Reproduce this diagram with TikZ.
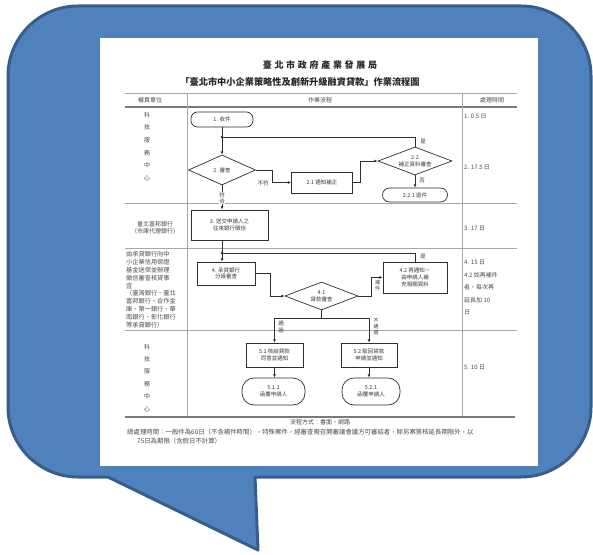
\documentclass[tikz,border=0pt]{standalone}
\usepackage{fontspec}
\newfontfamily\cjk{Noto Sans CJK TC}
\newfontfamily\cjkwide[LetterSpace=30]{Noto Sans CJK TC}
\usetikzlibrary{arrows.meta,shapes.geometric}
\definecolor{bubblefill}{HTML}{4F81BD}
\definecolor{bubbleline}{HTML}{385D8A}
\definecolor{linec}{HTML}{2E2E2E}
\definecolor{gridc}{HTML}{A8A8A8}
\definecolor{rulec}{HTML}{7A7A7A}
\definecolor{txt}{HTML}{3A3A3A}
\definecolor{sidetxt}{HTML}{4A4A4A}
\tikzset{
  bubble/.style={fill=bubblefill, draw=bubbleline, line width=3pt, line join=round},
  fl/.style={draw=linec, line width=0.7pt},
  flow/.style={fl, -{Latex[length=3.2pt,width=2.8pt]}},
  box/.style={draw=linec, line width=0.7pt, fill=white, inner sep=0pt, align=center, text=txt,
    font=\cjk\fontsize{5.5}{6.8}\selectfont},
  term/.style={box, rounded corners=6.5pt},
  dia/.style={box, shape=diamond, aspect=2.5},
  lab/.style={inner sep=0pt, text=txt, align=center, font=\cjk\fontsize{5.5}{6.2}\selectfont},
  side/.style={inner sep=0pt, text=sidetxt, font=\cjk\fontsize{6}{7}\selectfont},
  grid/.style={draw=gridc, line width=0.7pt},
  rulel/.style={draw=rulec, line width=1.3pt},
}
\begin{document}
\begin{tikzpicture}[x=1pt,y=1pt]
\useasboundingbox (0,0) rectangle (593,554);
% speech bubble
\draw[bubble] (108,77) -- (258,4) -- (255,77) -- (521,77)
  arc[start angle=-90,end angle=0,radius=70] -- (591,478)
  arc[start angle=0,end angle=90,radius=70] -- (78,548)
  arc[start angle=90,end angle=180,radius=70] -- (8,147)
  arc[start angle=180,end angle=270,radius=70] -- cycle;
\begin{scope}[shift={(0,554)},yscale=-1]
% page
\fill[white] (100,38) rectangle (538,466);
% titles
\node[inner sep=0pt, text=black!85, font=\cjkwide\bfseries\fontsize{9}{10}\selectfont] (title1) at (320,65) {臺北市政府產業發展局};
\node[inner sep=0pt, text=black!85, font=\cjk\bfseries\fontsize{9.2}{10}\selectfont] (title2) at (300,82) {「臺北市中小企業策略性及創新升級融資貸款」作業流程圖};
% table rules
\draw[grid] (125,93) -- (517,93);
\draw[rulel] (125,107) -- (517,107);
\draw[grid] (125,203) -- (517,203);
\draw[grid] (125,248) -- (517,248);
\draw[grid] (125,330) -- (517,330);
\draw[grid] (187,93) -- (187,417);
\draw[grid] (462,93) -- (462,417);
\draw[rulel] (125,417) -- (515,417);
% header
\node[side] (h1) at (150,100) {權責單位};
\node[side] (h2) at (320,100) {作業流程};
\node[side] (h3) at (492,100) {處理時間};
% left column
\foreach \ch [count=\i] in {科,技,服,務,中,心}
  \node[side] (ua\i) at (147,115+12.6*\i-12.6) {\ch};
\node[side, align=center] (ub) at (155,228) {臺北富邦銀行\\（市庫代理銀行）};
\node[side, anchor=north west, align=left, font=\cjk\fontsize{6.2}{7.9}\selectfont] (uc) at (126,251)
  {由承貸銀行向中\\小企業信用保證\\基金送保並辦理\\徵信審查核貸事\\宜\\（臺灣銀行、臺北\\富邦銀行、合作金\\庫、第一銀行、華\\南銀行、彰化銀行\\等承貸銀行）};
\foreach \ch [count=\i] in {科,技,服,務,中,心}
  \node[side] (ud\i) at (147,347+12.4*\i-12.4) {\ch};
% right column
\node[side, anchor=west] (ta) at (464,116) {1. 0.5 日};
\node[side, anchor=west] (tb) at (464,167) {2. 17.5 日};
\node[side, anchor=west] (tc) at (464,228) {3. 17 日};
\node[side, anchor=north west, align=left, font=\cjk\fontsize{6}{12.5}\selectfont] (td) at (464,260)
  {4. 15 日\\4.2 如再補件\\者，每次再\\延長加 10\\日};
\node[side, anchor=west] (te) at (464,367) {5. 10 日};
% flow nodes
\node[term, minimum width=62pt, minimum height=15pt] (n1) at (222,119.5) {1. 收件};
\node[dia, minimum width=67pt, minimum height=30pt] (d2) at (222,170) {2. 審查};
\node[box, minimum width=61pt, minimum height=21pt] (b21) at (322,182.5) {2.1 通知補正};
\node[dia, minimum width=74pt, minimum height=28pt] (d22) at (415,161) {2.2\\補正資料審查};
\node[term, minimum width=65pt, minimum height=14pt, rounded corners=7pt] (t221) at (415,195) {2.2.1 退件};
\node[box, minimum width=77pt, minimum height=30pt] (b3) at (229.5,225) {3. 送交申請人之\\往來銀行徵信};
\node[box, minimum width=58pt, minimum height=23pt] (b4) at (226,273.5) {4. 承貸銀行\\分級審查};
\node[dia, minimum width=73pt, minimum height=28pt] (d41) at (321.5,296) {4.1\\貸款審查};
\node[box, minimum width=64pt, minimum height=31pt] (b42) at (415,277.5) {4.2 再通知－\\由申請人補\\充相關資料};
\node[box, minimum width=57pt, minimum height=24pt] (b51) at (274.5,355) {5.1 核給貸款\\同意並通知};
\node[box, minimum width=56pt, minimum height=24pt] (b52) at (369,355) {5.2 駁回貸款\\申請並通知};
\node[term, minimum width=63pt, minimum height=27pt, rounded corners=12pt] (t511) at (273.5,391.5) {5.1.1\\函覆申請人};
\node[term, minimum width=58pt, minimum height=27pt, rounded corners=12pt] (t521) at (371,391.5) {5.2.1\\函覆申請人};
% junctions
\coordinate (j1) at (222,137);
\coordinate (j2) at (222,253);
\coordinate (c21) at (272,170);
\coordinate (c22) at (360,182.5);
\coordinate (c41) at (270,296);
\coordinate (c42) at (371,296);
\coordinate (j3) at (321.5,318);
\coordinate (c51) at (274.5,318);
\coordinate (c52) at (369,318);
% connectors
\draw[flow] (n1.south) -- (d2.north);
\draw[fl] (d22.north) |- (j1);
\fill[linec] (j1) circle (1.3pt);
\draw[flow] (d2.east) -- (c21) |- (b21.west);
\draw[flow] (b21.east) -- (c22) |- (d22.west);
\draw[flow] (d22.south) -- (t221.north);
\draw[flow] (d2.south) -- (b3.north -| d2.south);
\draw[fl] (b3.south -| j2) -- (j2);
\draw[flow] (j2) -- (b4.north -| j2);
\draw[fl] (b42.north) |- (j2);
\fill[linec] (j2) circle (1.3pt);
\draw[flow] (b4.east) -| (c41) -- (d41.west);
\draw[flow] (d41.east) -- (c42) |- (b42.west);
\draw[fl] (d41.south) -- (j3);
\draw[fl] (c51) -- (c52);
\draw[flow] (c51) -- (b51.north);
\draw[flow] (c52) -- (b52.north);
\draw[flow] (b51.south) -- (b51.south |- t511.north);
\draw[flow] (b52.south) -- (b52.south |- t521.north);
% connector labels
\node[lab] (lyes1) at (423,142) {是};
\node[lab] (lno1) at (263,183) {不符};
\node[lab] (lno2) at (422,181) {否};
\node[lab, fill=white] (lok) at (222,198) {符\\合};
\node[lab] (lyes2) at (423,257) {是};
\node[lab, font=\cjk\fontsize{5}{5.8}\selectfont] (lbu) at (377.5,286) {補\\件};
\node[lab] (lpass) at (281,327) {通\\過};
\node[lab, font=\cjk\fontsize{5}{5.8}\selectfont] (lfail) at (376,327) {不\\通\\過};
% footer
\node[side, font=\cjk\fontsize{6}{7}\selectfont] (f1) at (320,422.5) {流程方式：書面、網路};
\node[side, anchor=west, font=\cjk\fontsize{6.4}{7}\selectfont] (f2) at (127,432) {總處理時間：一般件為60日（不含補件時間），特殊案件，經審查需召開審議會議方可審結者，除另案簽核延長期限外，以};
\node[side, anchor=west, font=\cjk\fontsize{6.4}{7}\selectfont] (f3) at (137,441) {75日為期限（含假日不計算）};
\end{scope}
\end{tikzpicture}
\end{document}
